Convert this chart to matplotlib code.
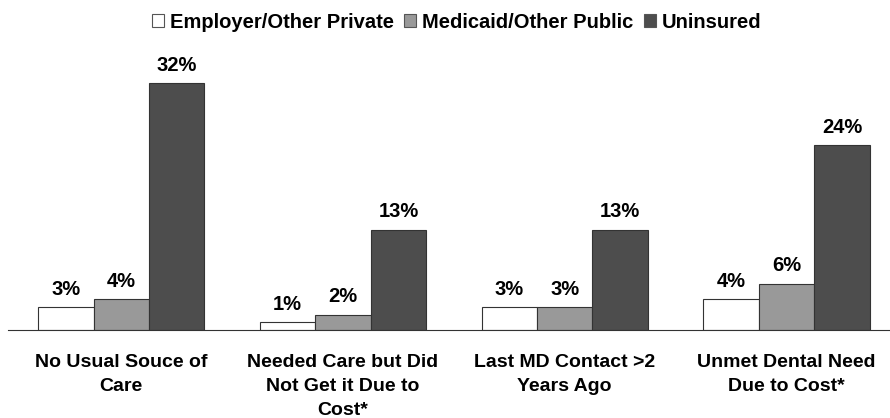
import numpy as np
import matplotlib.pyplot as plt

categories = ['No Usual Souce of\nCare', 'Needed Care but Did\nNot Get it Due to\nCost*',
              'Last MD Contact >2\nYears Ago', 'Unmet Dental Need\nDue to Cost*']
series_names = ['Employer/Other Private', 'Medicaid/Other Public', 'Uninsured']
private = [3, 1, 3, 4]
public = [4, 2, 3, 6]
uninsured = [32, 13, 13, 24]

colors = ['#ffffff', '#999999', '#4d4d4d']

plt.rcParams['font.family'] = ['Liberation Sans', 'DejaVu Sans']

fig = plt.figure(figsize=(8.9, 4.18), dpi=100)
ax = fig.add_axes([0.009, 0.2105, 0.991, 0.646])

x = np.arange(len(categories))
w = 0.25
for i, (vals, name) in enumerate(zip([private, public, uninsured], series_names)):
    bars = ax.bar(x + (i - 1) * w, vals, w, color=colors[i], edgecolor='#333333',
                  linewidth=0.8, label=name)
    for b, v in zip(bars, vals):
        ax.annotate(f'{v}%', (b.get_x() + b.get_width() / 2, v), xytext=(0, 6),
                    textcoords='offset points', ha='center', va='bottom',
                    fontsize=14.5, fontweight='bold')

ax.set_xlim(-0.511, 3.467)
ax.set_ylim(0, 35)
for s in ['top', 'right', 'left']:
    ax.spines[s].set_visible(False)
ax.spines['bottom'].set_color('#333333')
ax.set_yticks([])
ax.set_xticks([])

for xi, lab in zip(x, categories):
    ax.text(xi, -0.09, lab, transform=ax.get_xaxis_transform(), ha='center', va='top',
            fontsize=14, fontweight='bold', linespacing=1.54)

leg = fig.legend(loc='center', bbox_to_anchor=(0.513, 0.947), ncol=3, frameon=False,
                 prop={'size': 14.5, 'weight': 'bold'}, handlelength=0.6, handleheight=0.6,
                 handletextpad=0.3, columnspacing=0.5)
for h in leg.legend_handles:
    h.set_edgecolor('#555555')

fig.savefig('out.png', dpi=100)
